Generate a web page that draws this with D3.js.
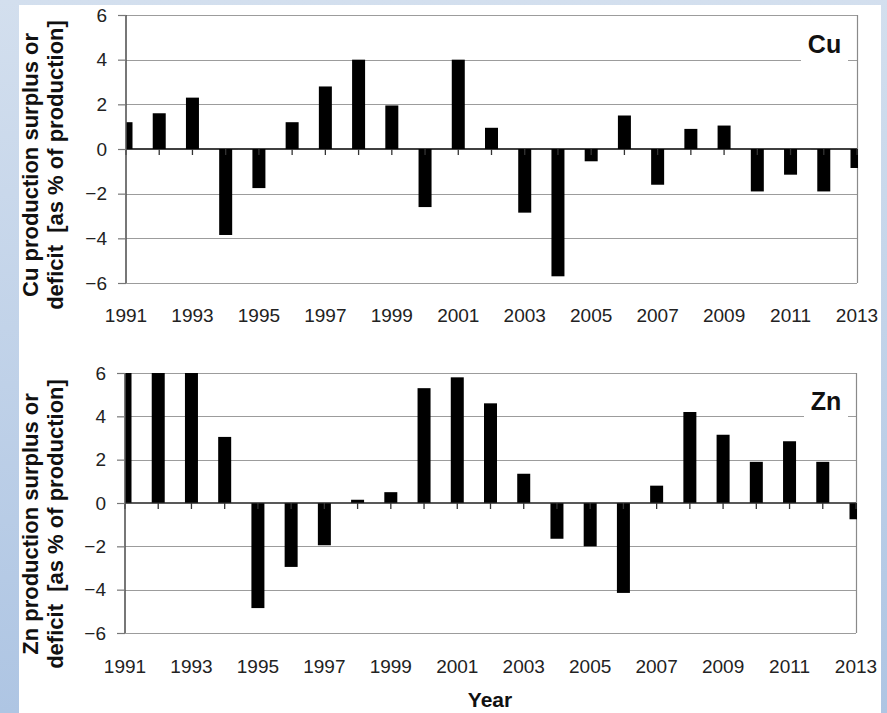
<!DOCTYPE html>
<html>
<head>
<meta charset="utf-8">
<script src="https://cdn.jsdelivr.net/npm/d3@7"></script>
<style>
  html, body { margin: 0; padding: 0; }
  svg { display: block; }
  text { font-family: "Liberation Sans", Arial, sans-serif; }
</style>
</head>
<body>
<svg id="chart" width="887" height="713"></svg>
<script>
// ---- data ----
const years = [1991,1992,1993,1994,1995,1996,1997,1998,1999,2000,2001,2002,2003,2004,2005,2006,2007,2008,2009,2010,2011,2012,2013];
const cuValues = [1.2,1.6,2.3,-3.85,-1.75,1.2,2.8,4.0,1.95,-2.6,4.0,0.95,-2.85,-5.7,-0.55,1.5,-1.6,0.9,1.05,-1.9,-1.15,-1.9,-0.85];
const znValues = [6,6,6,3.05,-4.85,-2.95,-1.95,0.15,0.5,5.3,5.8,4.6,1.35,-1.65,-2.0,-4.15,0.8,4.2,3.15,1.9,2.85,1.9,-0.75];
const yTicks = [-6,-4,-2,0,2,4,6];
const xTickLabels = [1991,1993,1995,1997,1999,2001,2003,2005,2007,2009,2011,2013];
const titleLine2 = "deficit  [as % of production]";

const svg = d3.select("#chart");

// background
const defs = svg.append("defs");
const grad = defs.append("linearGradient").attr("id","bg").attr("x1",0).attr("y1",0).attr("x2",0).attr("y2",1);
grad.append("stop").attr("offset","0%").attr("stop-color","#d3dfee");
grad.append("stop").attr("offset","100%").attr("stop-color","#aec5e3");
svg.append("rect").attr("width",887).attr("height",713).attr("fill","url(#bg)");
svg.append("rect").attr("x",19).attr("y",5).attr("width",862).attr("height",708).attr("fill","#fff");

function drawPanel(cfg, idx) {
  const x = d3.scalePoint().domain(years).range([cfg.left, cfg.right]);
  const y = d3.scaleLinear().domain([-6, 6]).range([cfg.bottom, cfg.top]);
  const g = svg.append("g");

  // gridlines
  g.selectAll("line.grid").data(yTicks.filter(t => t !== 0)).join("line")
    .attr("x1", cfg.left).attr("x2", cfg.right)
    .attr("y1", d => Math.round(y(d)) + 0.5).attr("y2", d => Math.round(y(d)) + 0.5)
    .attr("stroke", "#9c9c9c").attr("stroke-width", 1.2);
  // right border
  g.append("line").attr("x1", cfg.right + 0.5).attr("x2", cfg.right + 0.5)
    .attr("y1", y(6)).attr("y2", y(-6)).attr("stroke", "#8a8a8a").attr("stroke-width", 1.2);

  // label with white box over gridline
  g.append("rect").attr("x", cfg.boxX0).attr("width", cfg.boxX1 - cfg.boxX0)
    .attr("y", y(4) - 30).attr("height", 33).attr("fill", "#fff");
  g.append("text").attr("x", (cfg.boxX0 + cfg.boxX1) / 2).attr("y", cfg.labelY)
    .attr("text-anchor", "middle").attr("font-weight", "bold").attr("font-size", 25)
    .attr("fill", "#111").text(cfg.label);

  // bars (clipped to plot area)
  defs.append("clipPath").attr("id", "clip" + idx).append("rect")
    .attr("x", cfg.left).attr("y", cfg.top).attr("width", cfg.right - cfg.left + 1).attr("height", cfg.bottom - cfg.top);
  const bw = 13;
  g.append("g").attr("clip-path", "url(#clip" + idx + ")")
    .selectAll("rect").data(years.map((yr, i) => ({ yr, v: cfg.values[i] }))).join("rect")
    .attr("x", d => x(d.yr) - bw / 2).attr("width", bw)
    .attr("y", d => y(Math.max(0, d.v)))
    .attr("height", d => Math.abs(y(d.v) - y(0)))
    .attr("fill", "#000");

  // zero line
  g.append("line").attr("x1", cfg.left).attr("x2", cfg.right)
    .attr("y1", y(0)).attr("y2", y(0)).attr("stroke", cfg.zeroColor).attr("stroke-width", 1.6);
  // category ticks below zero line
  g.selectAll("line.ct").data(years).join("line")
    .attr("x1", d => x(d)).attr("x2", d => x(d))
    .attr("y1", y(0)).attr("y2", y(0) + 6)
    .attr("stroke", "#333").attr("stroke-width", 1.3);

  // y axis
  const ya = g.append("g").attr("transform", `translate(${cfg.left},0)`)
    .call(d3.axisLeft(y).tickValues(yTicks).tickSize(8).tickPadding(11));
  ya.select(".domain").attr("stroke", "#555").attr("stroke-width", 1.6).attr("d", `M-0,${y(6)}V${y(-6)}`);
  ya.selectAll(".tick line").attr("stroke", "#777").attr("stroke-width", 1.2);
  ya.selectAll(".tick text").attr("font-size", 19).attr("fill", "#222")
    .attr("font-family", "'Liberation Sans', Arial, sans-serif");

  // x labels
  g.selectAll("text.xl").data(xTickLabels).join("text")
    .attr("x", d => x(d)).attr("y", cfg.xLabelY)
    .attr("text-anchor", "middle").attr("font-size", 19).attr("fill", "#222")
    .text(d => d);

  // y title
  g.append("text").attr("transform", `translate(38,${cfg.titleY}) rotate(-90)`)
    .attr("text-anchor", "middle").attr("font-weight", "bold").attr("font-size", 22).attr("fill", "#111")
    .text(cfg.label + " production surplus or");
  g.append("text").attr("transform", `translate(63,${cfg.titleY}) rotate(-90)`)
    .attr("text-anchor", "middle").attr("font-weight", "bold").attr("font-size", 22).attr("fill", "#111")
    .style("white-space", "pre").text(titleLine2);
}

drawPanel({ label: "Cu", values: cuValues, left: 126, right: 857, top: 15, bottom: 283,
  boxX0: 801, boxX1: 848, labelY: 53, xLabelY: 322, titleY: 165, zeroColor: "#000" }, 0);
drawPanel({ label: "Zn", values: znValues, left: 125, right: 856, top: 373, bottom: 633,
  boxX0: 804, boxX1: 848, labelY: 410, xLabelY: 673, titleY: 524, zeroColor: "#222" }, 1);

svg.append("text").attr("x", 490).attr("y", 707).attr("text-anchor", "middle")
  .attr("font-weight", "bold").attr("font-size", 21).attr("fill", "#111").text("Year");
</script>
</body>
</html>
